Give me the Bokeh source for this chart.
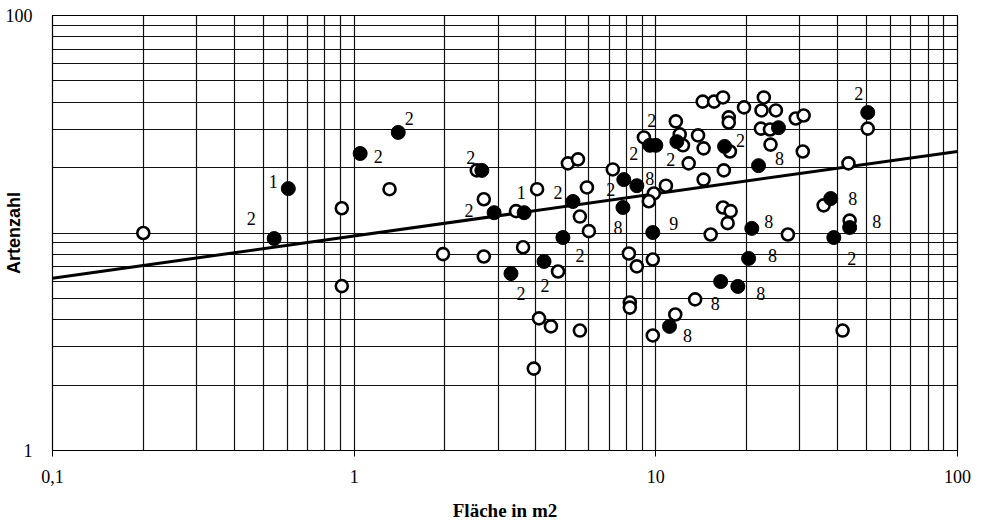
from bokeh.plotting import figure
from bokeh.models import ColumnDataSource, FixedTicker, Range1d
from bokeh.core.properties import value
from bokeh.embed import file_html
from bokeh.resources import INLINE

# ---- data ----
open_x = [0.20, 0.91, 0.91, 1.31, 1.97, 2.69, 2.55, 2.69, 3.44, 4.04, 5.11, 5.52, 5.60, 6.00,
          5.91, 3.63, 4.74, 4.10, 4.49, 3.94, 5.60, 8.14, 8.65, 8.20, 8.20, 9.77, 9.77, 7.20,
          9.13, 11.65, 12.0, 12.3, 13.8, 12.85, 10.8, 9.85, 9.48, 14.3, 15.6, 16.7, 19.6, 22.8,
          22.4, 25.0, 17.45, 17.45, 29.1, 30.9, 22.3, 23.9, 14.4, 17.6, 24.0, 30.7, 16.8, 14.4,
          50.4, 43.5, 16.7, 17.7, 17.3, 15.2, 27.4, 36.0, 43.9, 13.5, 11.6, 41.6]
open_y = [10.0, 13.0, 5.7, 15.9, 8.0, 7.8, 19.4, 14.3, 12.6, 15.9, 20.9, 21.8, 11.9, 10.2,
          16.2, 8.6, 6.65, 4.05, 3.72, 2.38, 3.56, 8.05, 7.02, 4.79, 4.54, 3.38, 7.55, 19.6,
          27.5, 32.6, 28.4, 25.3, 28.1, 20.9, 16.5, 15.2, 14.0, 40.2, 40.2, 42.0, 37.8, 42.0,
          36.6, 36.6, 34.0, 32.2, 33.6, 34.7, 30.2, 29.9, 24.5, 23.7, 25.5, 23.7, 19.4, 17.6,
          30.2, 20.9, 13.1, 12.6, 11.1, 9.84, 9.84, 13.4, 11.4, 4.95, 4.22, 3.56]

filled_x = [0.543, 0.605, 1.047, 1.40, 2.65, 2.91, 3.66, 5.31, 4.92, 4.26, 3.31, 7.83, 8.65,
            7.78, 9.55, 10.0, 11.74, 25.5, 16.9, 21.9, 50.4, 9.77, 20.8, 20.3, 16.4, 18.7,
            11.1, 38.0, 43.9, 38.9]
filled_y = [9.43, 16.0, 23.2, 29.0, 19.4, 12.4, 12.4, 13.96, 9.53, 7.4, 6.51, 17.6, 16.5,
            13.1, 25.3, 25.3, 26.3, 30.5, 25.0, 20.4, 35.8, 10.05, 10.5, 7.64, 5.98, 5.68,
            3.72, 14.4, 10.6, 9.53]

# number labels: which point they belong to ("f" filled / "o" open, index) and text
label_src = ["f", "f", "f", "f", "f", "f", "f", "f", "f", "f", "f", "f", "f", "f", "f",
             "f", "f", "f", "f", "f", "f", "f", "f", "f", "o", "f", "f", "f", "f"]
label_idx = [0, 1, 2, 3, 4, 5, 6, 7, 8, 9, 10, 11, 12, 13, 15, 14, 16, 18, 19, 20, 21, 22,
             23, 25, 65, 26, 27, 28, 29]
label_text = ["2", "1", "2", "2", "2", "2", "1", "2", "2", "2", "2", "2", "8", "8", "2",
              "2", "2", "2", "8", "2", "9", "8", "8", "8", "8", "8", "8", "8", "2"]

# regression line end values at x = 0.1 and x = 100
fit_x = [0.1, 100]
fit_y = [6.2, 23.7]

x_ticks = [0.1, 1, 10, 100]
x_tick_labels = ["0,1", "1", "10", "100"]
y_ticks = [1, 100]
y_tick_labels = ["1", "100"]

# ---- label placement offsets (screen px, style only) ----
label_dx = [-23, -15, 18, 11, -11, -25, -3, -15, 17, 1, 10, -13, 13, -5, -4,
            -16, -6, 16, 21, -9, 21, 17, 24, 23, 20, 18, 22, 27, 18]
label_dy = [-20, -7, 3, -14, -13, -2, -20, -9, 18, 24, 20, 10, -7, 20, -25,
            8, 18, -6, -7, -19, -9, -7, -3, 7, 4, 9, 0, -6, 21]

lx = [(filled_x if s == "f" else open_x)[i] for s, i in zip(label_src, label_idx)]
ly = [(filled_y if s == "f" else open_y)[i] for s, i in zip(label_src, label_idx)]

SERIF = "Liberation Serif"

p = figure(width=975, height=528, x_axis_type="log", y_axis_type="log",
           x_range=Range1d(0.1, 100), y_range=Range1d(1, 100),
           output_backend="svg", toolbar_location=None,
           min_border_left=51, min_border_right=18, min_border_top=15, min_border_bottom=78)
p.background_fill_color = "white"
p.outline_line_color = "black"
p.outline_line_width = 1.2

minor_x = [m * 10 ** d for d in (-1, 0, 1) for m in range(2, 10)]
minor_y = [m * 10 ** d for d in (0, 1) for m in range(2, 10)] + [10]
xt = FixedTicker(ticks=x_ticks, minor_ticks=minor_x)
yt = FixedTicker(ticks=y_ticks, minor_ticks=minor_y)
p.xaxis.ticker = xt
p.yaxis.ticker = yt
p.xgrid.ticker = xt
p.ygrid.ticker = yt
for g in (p.xgrid, p.ygrid):
    g.grid_line_color = "#111111"
    g.grid_line_width = 1.2
    g.minor_grid_line_color = "#111111"
    g.minor_grid_line_width = 1.2

p.xaxis.major_label_overrides = dict(zip(x_ticks, x_tick_labels))
p.yaxis.major_label_overrides = dict(zip(y_ticks, y_tick_labels))

for ax in (p.xaxis, p.yaxis):
    ax.axis_line_color = "black"
    ax.major_tick_line_color = "black"
    ax.minor_tick_line_color = None
    ax.major_tick_in = 0
    ax.major_label_text_font = SERIF
    ax.major_label_text_font_size = "18px"
    ax.major_label_text_color = "black"
    ax.axis_label_text_font_style = "bold"
    ax.axis_label_text_color = "black"

p.xaxis.major_tick_out = 6
p.xaxis.major_label_standoff = 13
p.xaxis.axis_label = "Fläche in m2"
p.xaxis.axis_label_text_font = SERIF
p.xaxis.axis_label_text_font_size = "19px"
p.xaxis.axis_label_standoff = 14

p.yaxis.major_tick_out = 0
p.yaxis.major_label_standoff = 16
p.yaxis.axis_label = "Artenzahl"
p.yaxis.axis_label_text_font = "Liberation Sans"
p.yaxis.axis_label_text_font_size = "18px"
p.yaxis.axis_label_standoff = -21

p.line(fit_x, fit_y, line_color="black", line_width=3)

p.scatter(open_x, open_y, size=12, marker="circle", fill_color="white",
          line_color="black", line_width=2.6)
p.scatter(filled_x, filled_y, size=14, marker="circle", fill_color="black",
          line_color="black", line_width=1)

src = ColumnDataSource(dict(x=lx, y=ly, t=label_text, dx=label_dx, dy=label_dy))
p.text(x="x", y="y", text="t", x_offset="dx", y_offset="dy", source=src,
       text_font=value(SERIF), text_font_size="18px", text_color="black",
       text_align="center", text_baseline="middle")

open("out.html", "w").write(file_html(p, INLINE))
